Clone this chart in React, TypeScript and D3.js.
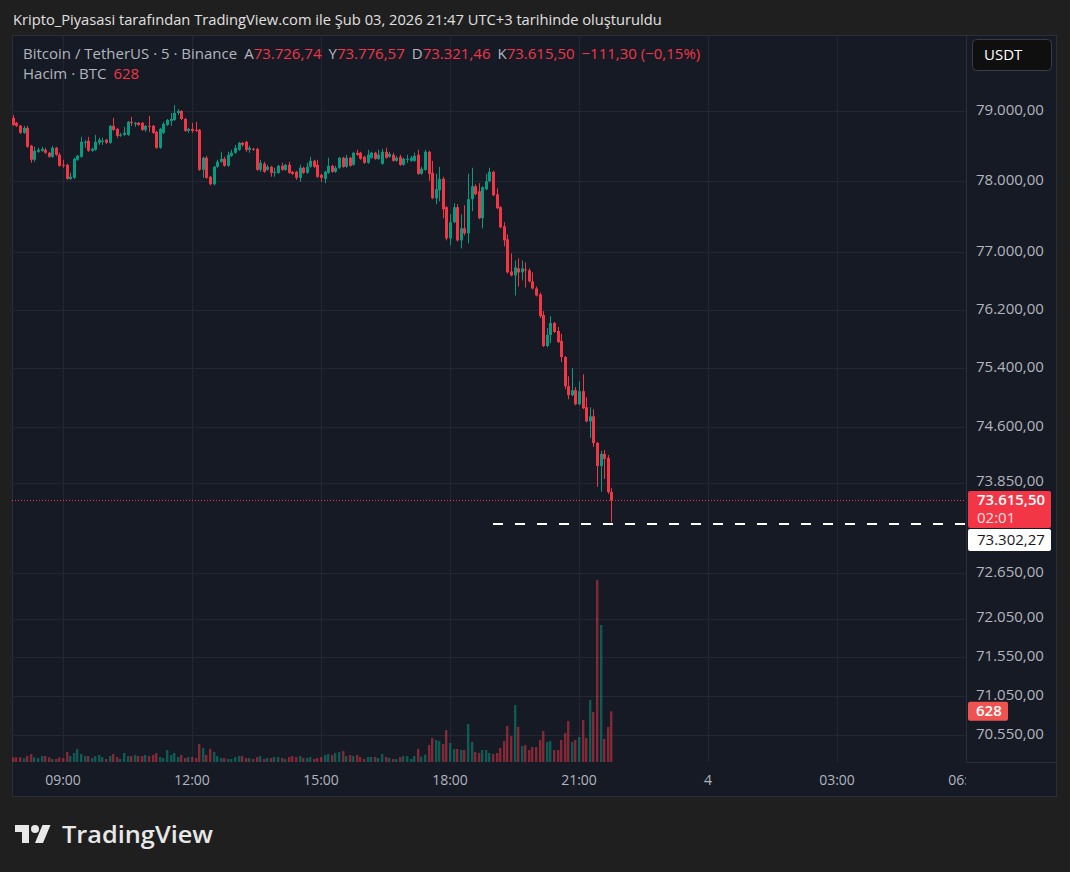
import React from "react";
import * as d3 from "d3";

const W = 1070;
const H = 872;

const opens = [
  78901, 78830, 78790, 78688, 78759, 78503, 78304, 78418, 78432, 78446,
  78404, 78347, 78475, 78375, 78233, 78233, 78034, 78049, 78304, 78347,
  78546, 78574, 78432, 78446, 78546, 78560, 78588, 78546, 78787, 78744,
  78645, 78659, 78659, 78844, 78815, 78830, 78830, 78730, 78787, 78787,
  78702, 78475, 78688, 78801, 78858, 78872, 78972, 79000, 78886, 78716,
  78744, 78730, 78730, 78162, 78333, 78063, 77958, 78205, 78276, 78318,
  78219, 78361, 78404, 78446, 78546, 78560, 78446, 78460, 78460, 78162,
  78247, 78162, 78205, 78120, 78120, 78219, 78162, 78233, 78134, 78134,
  78049, 78191, 78120, 78205, 78290, 78233, 78091, 78034, 78120, 78219,
  78134, 78191, 78333, 78205, 78333, 78233, 78404, 78404, 78347, 78262,
  78333, 78404, 78318, 78247, 78418, 78347, 78375, 78290, 78347, 78233,
  78304, 78290, 78290, 78375, 78105, 78162, 78418, 78120, 77761, 77873,
  78034, 77634, 77197, 77423, 77634, 77169, 77338, 77268, 77747, 77930,
  77859, 77479, 77887, 78000, 78134, 77817, 77634, 77366, 77183, 76736,
  76680, 76778, 76722, 76764, 76750, 76597, 76499, 76416, 76131, 75705,
  75856, 76021, 75911, 75774, 75554, 75155, 75033, 75101, 74910, 75087,
  74869, 74678, 74746, 74386, 74077, 74238, 74185, 73726.74,
];

const highs = [
  78943, 78844, 78801, 78787, 78787, 78517, 78489, 78475, 78489, 78475,
  78418, 78503, 78489, 78404, 78304, 78247, 78120, 78333, 78375, 78631,
  78588, 78631, 78475, 78659, 78617, 78617, 78602, 78801, 78901, 78759,
  78688, 78773, 78858, 78915, 78844, 78844, 78844, 78801, 78929, 78801,
  78716, 78759, 78844, 78886, 78972, 79085, 79028, 79014, 78901, 78759,
  78830, 78844, 78744, 78347, 78361, 78077, 78219, 78304, 78418, 78347,
  78418, 78446, 78517, 78560, 78560, 78574, 78503, 78475, 78475, 78304,
  78276, 78233, 78219, 78191, 78233, 78262, 78247, 78276, 78148, 78148,
  78233, 78205, 78262, 78347, 78304, 78304, 78105, 78148, 78333, 78233,
  78219, 78347, 78347, 78375, 78347, 78418, 78446, 78418, 78361, 78446,
  78418, 78418, 78446, 78460, 78475, 78418, 78404, 78361, 78375, 78333,
  78375, 78361, 78404, 78446, 78205, 78446, 78432, 78290, 78105, 78205,
  78063, 77648, 77535, 77690, 77676, 77535, 77662, 78105, 78191, 77958,
  77972, 77930, 78105, 78191, 78148, 77901, 77648, 77423, 77254, 76986,
  76889, 76917, 76889, 76861, 76778, 76722, 76527, 76444, 76186, 75952,
  76117, 76035, 75966, 75870, 75568, 75291, 75400, 75142, 75223, 75318,
  75006, 74869, 74842, 74399, 74279, 74292, 74225, 73776.57,
];

const lows = [
  78787, 78773, 78673, 78673, 78475, 78262, 78276, 78404, 78418, 78389,
  78333, 78333, 78361, 78205, 78191, 78020, 78020, 78034, 78290, 78333,
  78475, 78418, 78418, 78432, 78517, 78517, 78531, 78531, 78716, 78617,
  78631, 78645, 78645, 78787, 78773, 78787, 78716, 78702, 78702, 78673,
  78460, 78460, 78673, 78787, 78787, 78858, 78943, 78872, 78702, 78688,
  78688, 78702, 78148, 78049, 78034, 77944, 77944, 78191, 78262, 78205,
  78205, 78347, 78389, 78432, 78489, 78418, 78404, 78432, 78148, 78134,
  78120, 78148, 78063, 78063, 78105, 78148, 78148, 78105, 78091, 78020,
  77992, 78105, 78105, 78191, 78191, 78049, 77992, 77972, 78105, 78120,
  78120, 78176, 78191, 78191, 78205, 78219, 78361, 78304, 78247, 78247,
  78318, 78304, 78304, 78233, 78318, 78333, 78276, 78276, 78219, 78219,
  78262, 78276, 78276, 78091, 78091, 78148, 78006, 77747, 77676, 77718,
  77479, 77169, 77099, 77409, 77155, 77056, 77240, 77127, 77578, 77803,
  77465, 77338, 77873, 77986, 77789, 77606, 77338, 77085, 76708, 76667,
  76402, 76527, 76611, 76513, 76583, 76485, 76388, 76090, 75691, 75691,
  75746, 75883, 75746, 75485, 75114, 74978, 75019, 74896, 74896, 74842,
  74664, 74453, 74332, 73797, 73730, 73903, 73703, 73321.46,
];

const closes = [
  78801, 78787, 78688, 78759, 78489, 78304, 78432, 78446, 78460, 78404,
  78347, 78475, 78375, 78219, 78219, 78034, 78063, 78318, 78361, 78560,
  78560, 78432, 78460, 78560, 78588, 78574, 78546, 78787, 78730, 78645,
  78659, 78688, 78844, 78830, 78830, 78801, 78730, 78787, 78773, 78688,
  78475, 78744, 78815, 78872, 78886, 78972, 79000, 78886, 78716, 78744,
  78716, 78716, 78162, 78333, 78049, 77958, 78205, 78276, 78318, 78219,
  78375, 78404, 78475, 78546, 78517, 78446, 78475, 78446, 78162, 78262,
  78134, 78205, 78120, 78134, 78219, 78162, 78233, 78120, 78105, 78049,
  78191, 78120, 78205, 78290, 78205, 78063, 78049, 78134, 78219, 78134,
  78191, 78333, 78205, 78333, 78219, 78404, 78375, 78318, 78262, 78375,
  78404, 78318, 78375, 78418, 78333, 78389, 78290, 78333, 78233, 78318,
  78318, 78333, 78361, 78105, 78176, 78418, 78105, 77761, 77887, 78034,
  77606, 77197, 77423, 77634, 77169, 77338, 77268, 77747, 77930, 77817,
  77479, 77916, 78000, 78134, 77803, 77620, 77352, 77169, 76722, 76680,
  76792, 76722, 76778, 76750, 76597, 76499, 76402, 76117, 75705, 75856,
  76021, 75897, 75760, 75554, 75155, 75033, 75101, 74910, 75087, 74855,
  74678, 74746, 74386, 74077, 74238, 74171, 73726.8, 73615.5,
];

const volumes = [
  58, 58, 58, 45, 74, 99, 58, 50, 74, 74,
  58, 37, 37, 58, 50, 124, 74, 112, 161, 99,
  74, 74, 50, 74, 87, 62, 37, 74, 99, 62,
  37, 112, 74, 74, 87, 74, 74, 87, 74, 87,
  112, 62, 50, 149, 87, 112, 62, 87, 50, 62,
  62, 50, 223, 173, 87, 161, 124, 74, 50, 50,
  37, 37, 62, 74, 74, 50, 50, 37, 62, 74,
  37, 50, 50, 62, 62, 50, 37, 62, 74, 62,
  74, 50, 50, 62, 37, 50, 62, 87, 99, 87,
  112, 124, 136, 74, 87, 74, 87, 62, 37, 62,
  62, 62, 50, 99, 62, 50, 37, 37, 62, 74,
  74, 37, 74, 161, 66, 91, 211, 297, 273, 260,
  223, 396, 235, 161, 161, 149, 149, 471, 248, 124,
  112, 149, 149, 112, 99, 112, 173, 260, 446, 322,
  706, 434, 198, 211, 149, 186, 186, 273, 384, 248,
  260, 149, 149, 273, 359, 508, 248, 273, 310, 520,
  297, 768, 620, 2255, 1697, 285, 434, 628,
];

const priceTicks = [79000, 78000, 77000, 76200, 75400, 74600, 73850, 72650, 72050, 71550, 71050, 70550];
const timeTickHours = [9, 12, 15, 18, 21, 24, 27, 30];
const timeTickLabels = ["09:00", "12:00", "15:00", "18:00", "21:00", "4", "03:00", "06:00"];
const firstBar = new Date(2026, 1, 3, 7, 50);
const barMinutes = 5;
const lowMarker = 73302.27;
const countdown = "02:01";
const titleText = "Kripto_Piyasasi tarafından TradingView.com ile Şub 03, 2026 21:47 UTC+3 tarihinde oluşturuldu";
const symbolText = "Bitcoin / TetherUS · 5 · Binance";
const volumeText = "Hacim · BTC";
const currency = "USDT";

const UP = "#089981";
const DOWN = "#f23645";
const BG = "#1f1f1f";
const PANEL = "#161a25";
const GRID = "#232733";
const BORDER = "#2a2e39";
const AXIS_TEXT = "#b2b5be";
const FONT = "'Open Sans', Roboto, sans-serif";

const loc = d3.formatLocale({ decimal: ",", thousands: ".", grouping: [3], currency: ["", ""], minus: "−" });
const fmt = loc.format(",.2f");

export default function App() {
  const L = 12, R = 966, T = 35, B = 762, RIGHT = 1057, AXB = 797;
  const x = d3
    .scaleTime()
    .domain([new Date(2026, 1, 3, 7, 48, 50), new Date(2026, 1, 4, 6, 0)])
    .range([L, R]);
  const y = d3.scaleLog().domain([70205.6, 80096]).range([B, T]);
  const vMax = d3.max(volumes) as number;
  const v = d3.scaleLinear().domain([0, vMax]).range([B, 580]);

  const bars = opens.map((o, i) => ({
    t: d3.timeMinute.offset(firstBar, i * barMinutes),
    o,
    h: highs[i],
    l: lows[i],
    c: closes[i],
    vol: volumes[i],
  }));
  const last = bars[bars.length - 1];
  const prev = bars[bars.length - 2];
  const change = last.c - prev.c;
  const changePct = (change / prev.c) * 100;

  const ticksT = timeTickHours.map((h) => d3.timeHour.offset(new Date(2026, 1, 3, 0, 0), h));

  const lastY = y(last.c);
  const lowY = y(lowMarker);
  const volLastY = v(last.vol);

  return (
    <svg
      width={W}
      height={H}
      style={{ position: "fixed", left: 0, top: 0, background: BG }}
      fontFamily={FONT}
    >
      <defs>
        <clipPath id="plotClip">
          <rect x={L} y={T} width={R - L} height={B - T} />
        </clipPath>
        <clipPath id="timeClip">
          <rect x={L} y={B} width={R - L} height={AXB - B} />
        </clipPath>
      </defs>
      <rect x={0} y={0} width={W} height={H} fill={BG} />
      <text x={13} y={25} fontSize={14.7} fill="#e0e0e0">
        {titleText}
      </text>

      <rect x={L + 0.5} y={T + 0.5} width={RIGHT - L - 1} height={AXB - T - 1} fill={PANEL} stroke={BORDER} />

      {/* grid */}
      <g clipPath="url(#plotClip)">
        {priceTicks.map((p) => (
          <line key={"gy" + p} x1={L} x2={R} y1={Math.round(y(p)) + 0.5} y2={Math.round(y(p)) + 0.5} stroke={GRID} />
        ))}
        {ticksT.map((t, i) => (
          <line key={"gx" + i} x1={Math.round(x(t)) + 0.5} x2={Math.round(x(t)) + 0.5} y1={T} y2={B} stroke={GRID} />
        ))}
      </g>

      {/* volume */}
      <g clipPath="url(#plotClip)">
        {bars.map((d, i) => {
          const cx = Math.round(x(d.t));
          const up = d.c >= d.o;
          return (
            <rect
              key={"v" + i}
              x={cx - 1}
              width={2.4}
              y={v(d.vol)}
              height={B - v(d.vol)}
              fill={up ? UP : DOWN}
              fillOpacity={0.5}
            />
          );
        })}
      </g>

      {/* candles */}
      <g clipPath="url(#plotClip)">
        {bars.map((d, i) => {
          const cx = Math.round(x(d.t));
          const up = d.c >= d.o;
          const col = up ? UP : DOWN;
          const top = y(Math.max(d.o, d.c));
          const bot = y(Math.min(d.o, d.c));
          const hi = y(Math.max(d.h, d.o, d.c));
          const lo = y(Math.min(d.l, d.o, d.c));
          return (
            <g key={"c" + i}>
              <rect x={cx} width={1} y={hi} height={lo - hi} fill={col} />
              <rect x={cx - 1} width={3} y={top} height={Math.max(1, bot - top)} fill={col} />
            </g>
          );
        })}
      </g>

      {/* last price dotted line */}
      <line x1={L} x2={R} y1={Math.round(lastY) + 0.5} y2={Math.round(lastY) + 0.5} stroke={DOWN} strokeDasharray="1 2" />
      {/* low marker dashed line */}
      <line
        x1={x(bars[134].t)}
        x2={R}
        y1={Math.round(lowY)}
        y2={Math.round(lowY)}
        stroke="#ffffff"
        strokeWidth={2}
        strokeDasharray="10 12"
      />

      {/* axes borders */}
      <line x1={R + 0.5} x2={R + 0.5} y1={T} y2={B} stroke={BORDER} />
      <line x1={R} x2={RIGHT} y1={B + 0.5} y2={B + 0.5} stroke={BORDER} />

      {/* price axis labels */}
      {priceTicks.map((p) => (
        <text key={"pl" + p} x={976} y={y(p) + 3.5} fontSize={15} fill={AXIS_TEXT}>
          {fmt(p)}
        </text>
      ))}

      {/* time axis labels */}
      <g clipPath="url(#timeClip)">
        {ticksT.map((t, i) => (
          <text key={"tl" + i} x={x(t)} y={785} fontSize={14} fill={AXIS_TEXT} textAnchor="middle">
            {timeTickLabels[i]}
          </text>
        ))}
      </g>

      {/* last price label */}
      <rect x={968} y={lastY - 9.5} width={83} height={37} rx={2} fill={DOWN} />
      <text x={977} y={lastY + 5} fontSize={15} fill="#ffffff" fontWeight={600} textLength={68} lengthAdjust="spacingAndGlyphs">
        {fmt(last.c)}
      </text>
      <text x={977} y={lastY + 23} fontSize={15} fill="#ffffff" fillOpacity={0.85}>
        {countdown}
      </text>
      {/* low marker label */}
      <rect x={968} y={lastY + 28.5} width={83} height={22} rx={2} fill="#ffffff" />
      <text x={977} y={lastY + 44.5} fontSize={15} fill="#131722">
        {fmt(lowMarker)}
      </text>
      {/* volume label */}
      <rect x={968} y={volLastY - 9.5} width={40} height={19} rx={2} fill="#ef5350" />
      <text x={976} y={volLastY + 5} fontSize={15} fill="#ffffff" fontWeight={600}>
        {d3.format("d")(last.vol)}
      </text>

      {/* currency button */}
      <rect x={972.5} y={39.5} width={79} height={31} rx={4} fill="#0f0f0f" stroke="#3a3d45" />
      <text x={984} y={60} fontSize={15} fill="#ffffff">
        {currency}
      </text>

      {/* legend */}
      <text x={23} y={59} fontSize={15} fill="#b2b5be">
        <tspan>{symbolText}</tspan>
        <tspan dx={7}>A</tspan>
        <tspan fill={DOWN}>{fmt(last.o)}</tspan>
        <tspan dx={7}>Y</tspan>
        <tspan fill={DOWN}>{fmt(last.h)}</tspan>
        <tspan dx={7}>D</tspan>
        <tspan fill={DOWN}>{fmt(last.l)}</tspan>
        <tspan dx={7}>K</tspan>
        <tspan fill={DOWN}>{fmt(last.c)}</tspan>
        <tspan dx={7} fill={DOWN}>
          {fmt(change) + " (" + fmt(changePct) + "%)"}
        </tspan>
      </text>
      <text x={23} y={79} fontSize={15} fill="#b2b5be">
        <tspan>{volumeText}</tspan>
        <tspan dx={7} fill={DOWN}>
          {d3.format("d")(last.vol)}
        </tspan>
      </text>

      {/* TradingView logo */}
      <g transform="translate(15,821)" fill="#e8e8e8">
        <path d="M14 22H7V11H0V4h14v18zM28 22h-8l7.5-18h8L28 22z" />
        <circle cx={20} cy={8} r={4} />
      </g>
      <text x={62} y={843} fontSize={24} fontWeight={600} fill="#e8e8e8" textLength={151} lengthAdjust="spacingAndGlyphs">
        TradingView
      </text>
    </svg>
  );
}
